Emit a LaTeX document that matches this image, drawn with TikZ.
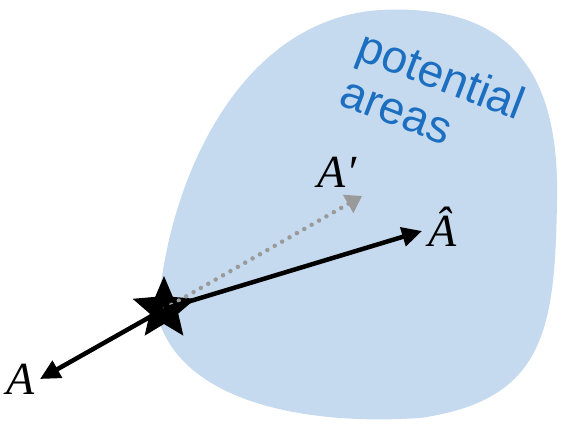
\documentclass[tikz,border=0pt]{standalone}
\usepackage{fontspec}
\setmainfont{Liberation Serif}
\newfontfamily\lsans{Liberation Sans}
\usetikzlibrary{shapes.geometric,arrows.meta}
\definecolor{blobblue}{HTML}{C5DAEE}
\definecolor{txtblue}{HTML}{1C6EC0}
\definecolor{dotgray}{HTML}{9A9A9A}
\tikzset{
  lbl/.style={font=\fontsize{46}{46}\selectfont\itshape, inner sep=0pt},
  mainarrow/.style={line width=4.5pt, -{Triangle[length=20pt,width=19pt]}},
  dotarrow/.style={dotgray, line width=4.5pt, dash pattern=on 0pt off 8.5pt, line cap=round, -{Triangle[length=16pt,width=20pt]}},
}
\begin{document}
\begin{tikzpicture}[x=1pt,y=-1pt]
\useasboundingbox (0,0) rectangle (561,424);
% blob
\fill[blobblue] (158,318) .. controls (163,200) and (230,20) .. (380,10)
  .. controls (500,4) and (560,60) .. (557,200)
  .. controls (555,330) and (545,400) .. (420,418)
  .. controls (300,426) and (182,400) .. cycle;
% text
\node[txtblue, font=\lsans\fontsize{46}{49}\selectfont, rotate=-21, inner sep=0pt, align=left] (t) at (433,97) {potential\\areas};
% points
\node[star, star points=5, star point ratio=2.2, fill=black, minimum size=66pt, inner sep=0pt] (s) at (164,309) {};
\coordinate (ap) at (362,196);
\coordinate (ah) at (422,231);
\coordinate (a) at (40,379);
\draw[dotarrow] (s.center) -- (ap);
\draw[mainarrow] (s.center) -- (ah);
\draw[mainarrow] (s.center) -- (a);
\node[lbl] (lap) at (337,172) {A′};
\node[lbl] (lah) at (443,227) {Â};
\node[lbl] (la) at (21,379) {A};
\end{tikzpicture}
\end{document}
